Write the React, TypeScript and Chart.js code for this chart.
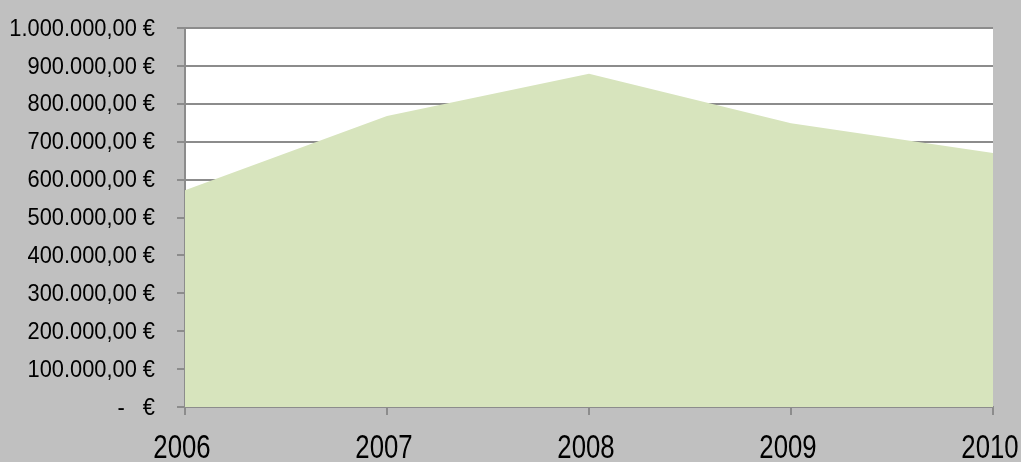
import React, { useEffect, useRef } from "react";
import { Chart, registerables } from "chart.js";

Chart.register(...registerables);

const years = ["2006", "2007", "2008", "2009", "2010"];
const revenue = [572000, 768000, 879000, 749000, 670000];
const yMax = 1000000;
const yStep = 100000;

function formatEuro(v: number): string {
  if (v === 0) return "-   €";
  const whole = Math.round(v).toString().replace(/\B(?=(\d{3})+(?!\d))/g, ".");
  return whole + ",00 €";
}

const FONT = "'Liberation Sans', Arial, sans-serif";

const bgPlugin = {
  id: "bgPlugin",
  beforeDraw(chart: any) {
    const { ctx, chartArea, width, height } = chart;
    ctx.save();
    ctx.fillStyle = "#c0c0c0";
    ctx.fillRect(0, 0, width, height);
    ctx.fillStyle = "#ffffff";
    ctx.fillRect(chartArea.left, chartArea.top, chartArea.right - chartArea.left, chartArea.bottom - chartArea.top);
    ctx.restore();
  },
};

// Narrow (condensed) tick labels, drawn from the scales' own ticks
const narrowLabels = {
  id: "narrowLabels",
  afterDraw(chart: any) {
    const { ctx } = chart;
    const ys = chart.scales.y;
    const xs = chart.scales.x;
    ctx.save();
    ctx.fillStyle = "#000";
    ctx.font = `24px ${FONT}`;
    ctx.textAlign = "right";
    ctx.textBaseline = "middle";
    ys.ticks.forEach((t: any) => {
      const py = ys.getPixelForValue(t.value);
      ctx.save();
      ctx.translate(155, py + 1);
      ctx.scale(0.91, 1);
      ctx.fillText(formatEuro(t.value), 0, 0);
      ctx.restore();
    });
    ctx.font = `33px ${FONT}`;
    ctx.textAlign = "center";
    ctx.textBaseline = "alphabetic";
    years.forEach((lab, i) => {
      const px = xs.getPixelForValue(i);
      ctx.save();
      ctx.translate(px - 3, 458);
      ctx.scale(0.78, 1);
      ctx.fillText(lab, 0, 0);
      ctx.restore();
    });
    ctx.restore();
  },
};

export default function App() {
  const ref = useRef<HTMLCanvasElement | null>(null);
  useEffect(() => {
    document.body.style.margin = "0";
    const chart = new Chart(ref.current as HTMLCanvasElement, {
      type: "line",
      data: {
        labels: years,
        datasets: [
          {
            data: revenue,
            fill: "origin",
            backgroundColor: "#d7e4bd",
            borderWidth: 0,
            borderColor: "rgba(0,0,0,0)",
            pointRadius: 0,
            tension: 0,
          },
        ],
      },
      options: {
        animation: false,
        responsive: false,
        maintainAspectRatio: false,
        layout: { padding: { top: 28, right: 28, left: 0, bottom: 0 } },
        plugins: { legend: { display: false }, tooltip: { enabled: false } },
        scales: {
          x: {
            type: "category",
            offset: false,
            afterFit(scale: any) {
              scale.height = 55;
            },
            grid: { drawOnChartArea: false, drawTicks: true, tickLength: 8, color: "#8c8c8c", lineWidth: 2, offset: false },
            border: { display: true, color: "#8c8c8c", width: 2 },
            ticks: { display: false, autoSkip: false, maxRotation: 0 },
          },
          y: {
            min: 0,
            max: yMax,
            afterFit(scale: any) {
              scale.width = 185;
            },
            grid: { drawOnChartArea: true, drawTicks: true, tickLength: 8, color: "#8c8c8c", lineWidth: 2 },
            border: { display: true, color: "#8c8c8c", width: 2 },
            ticks: { display: false, stepSize: yStep },
          },
        },
      } as any,
      plugins: [bgPlugin, narrowLabels],
    });
    return () => chart.destroy();
  }, []);
  return (
    <div style={{ width: 1021, height: 462 }}>
      <canvas ref={ref} width={1021} height={462} style={{ display: "block" }} />
    </div>
  );
}
